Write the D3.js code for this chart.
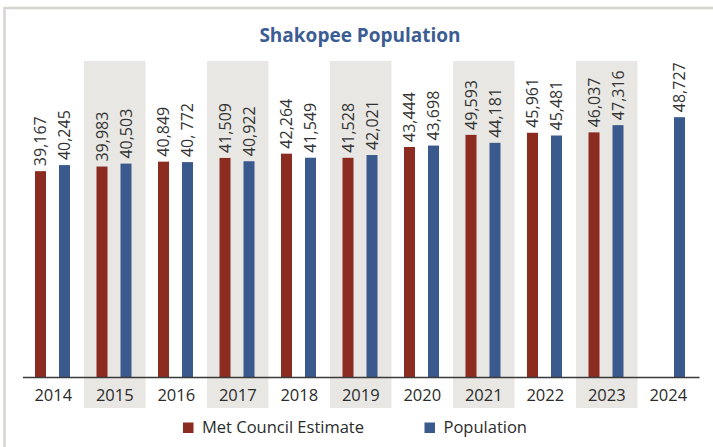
<!DOCTYPE html>
<html>
<head>
<meta charset="utf-8">
<script src="https://cdn.jsdelivr.net/npm/d3@7"></script>
<style>
  body { margin: 0; background: #fff; }
  text { font-family: "Open Sans", "Noto Sans", sans-serif; }
</style>
</head>
<body>
<div id="chart"></div>
<script>
// Constants for the chart
const CHART_WIDTH = 713;
const CHART_HEIGHT = 447;
const MARGIN = { left: 22.5, right: 14, top: 110, bottom: 70 };

// Data
const years = ["2014", "2015", "2016", "2017", "2018", "2019", "2020", "2021", "2022", "2023", "2024"];
const metCouncil = [39167, 39983, 40849, 41509, 42264, 41528, 43444, 45593, 45961, 46037, null];
// the 2021 label is printed as 49,593 while its bar stands near 45,6xx
const metCouncilLabels = ["39,167", "39,983", "40,849", "41,509", "42,264", "41,528", "43,444", "49,593", "45,961", "46,037", ""];
const population = [40245, 40503, 40772, 40922, 41549, 42021, 43698, 44181, 45481, 47316, 48727];
const populationLabels = ["40,245", "40,503", "40, 772", "40,922", "41,549", "42,021", "43,698", "44,181", "45,481", "47,316", "48,727"];
const seriesNames = ["Met Council Estimate", "Population"];
const seriesColors = ["#8c2b20", "#3a5a8e"];

let svg = d3.select("#chart").append("svg")
  .attr("width", CHART_WIDTH)
  .attr("height", CHART_HEIGHT);

// outer frame
svg.append("rect")
  .attr("x", 4.5)
  .attr("y", 8)
  .attr("width", 900)
  .attr("height", 600)
  .attr("fill", "none")
  .attr("stroke", "#d6d5cf")
  .attr("stroke-width", 2.5);

// Scales
let xScale = d3.scaleBand()
  .domain(years)
  .range([MARGIN.left, 699])
  .padding(0);

let innerScale = d3.scaleBand()
  .domain(seriesNames)
  .range([12.5, 47.5])
  .paddingInner(13 / 24)
  .paddingOuter(0);

let baseline = 377;
let yScale = d3.scaleLinear()
  .domain([2700, 50000])
  .range([baseline, MARGIN.top]);

// alternating shaded columns
svg.append("g")
  .selectAll("rect")
  .data(years.filter((d, i) => i % 2 == 1))
  .join("rect")
  .attr("x", d => xScale(d))
  .attr("y", 61)
  .attr("width", xScale.bandwidth())
  .attr("height", 408 - 61)
  .attr("fill", "#e8e7e3");

// Title
svg.append("text")
  .attr("x", 360)
  .attr("y", 42)
  .attr("text-anchor", "middle")
  .attr("font-size", 19)
  .attr("font-weight", 700)
  .attr("fill", "#3b5d93")
  .text("Shakopee Population");

let series = [
  { name: seriesNames[0], values: metCouncil, labels: metCouncilLabels, color: seriesColors[0] },
  { name: seriesNames[1], values: population, labels: populationLabels, color: seriesColors[1] }
];

let chart = svg.append("g").classed("chart", true);

series.forEach(s => {
  let rows = years.map((year, i) => ({ year, value: s.values[i], label: s.labels[i] }))
    .filter(d => d.value != null);

  chart.append("g")
    .selectAll("rect")
    .data(rows)
    .join("rect")
    .attr("x", d => xScale(d.year) + innerScale(s.name))
    .attr("y", d => yScale(d.value))
    .attr("width", innerScale.bandwidth())
    .attr("height", d => baseline - yScale(d.value))
    .attr("fill", s.color);

  chart.append("g")
    .selectAll("text")
    .data(rows)
    .join("text")
    .attr("transform", d => `translate(${xScale(d.year) + innerScale(s.name) + innerScale.bandwidth() / 2}, ${yScale(d.value) - 5}) rotate(-90)`)
    .attr("dy", "0.36em")
    .attr("font-size", 16)
    .attr("fill", "#333")
    .text(d => d.label);
});

// X-Axis
let xAxis = d3.axisBottom(xScale).tickSize(0).tickPadding(12);
let axisG = svg.append("g")
  .attr("transform", `translate(0, ${baseline})`)
  .call(xAxis);
axisG.select(".domain")
  .attr("stroke", "#3a3a3a")
  .attr("stroke-width", 1.5);
axisG.selectAll(".tick text")
  .attr("font-size", 16.5)
  .attr("font-family", "Open Sans, sans-serif")
  .attr("fill", "#2b2b2b");

// Legend
let legendX = [183, 424.5];
let legend = svg.append("g")
  .selectAll("g")
  .data(series)
  .join("g")
  .attr("transform", (d, i) => `translate(${legendX[i]}, 422.5)`);
legend.append("rect")
  .attr("width", 10.5)
  .attr("height", 10.5)
  .attr("fill", d => d.color);
legend.append("text")
  .attr("x", 19)
  .attr("y", 10.5)
  .attr("font-size", 16.5)
  .attr("fill", "#2b2b2b")
  .text(d => d.name);
</script>
</body>
</html>
